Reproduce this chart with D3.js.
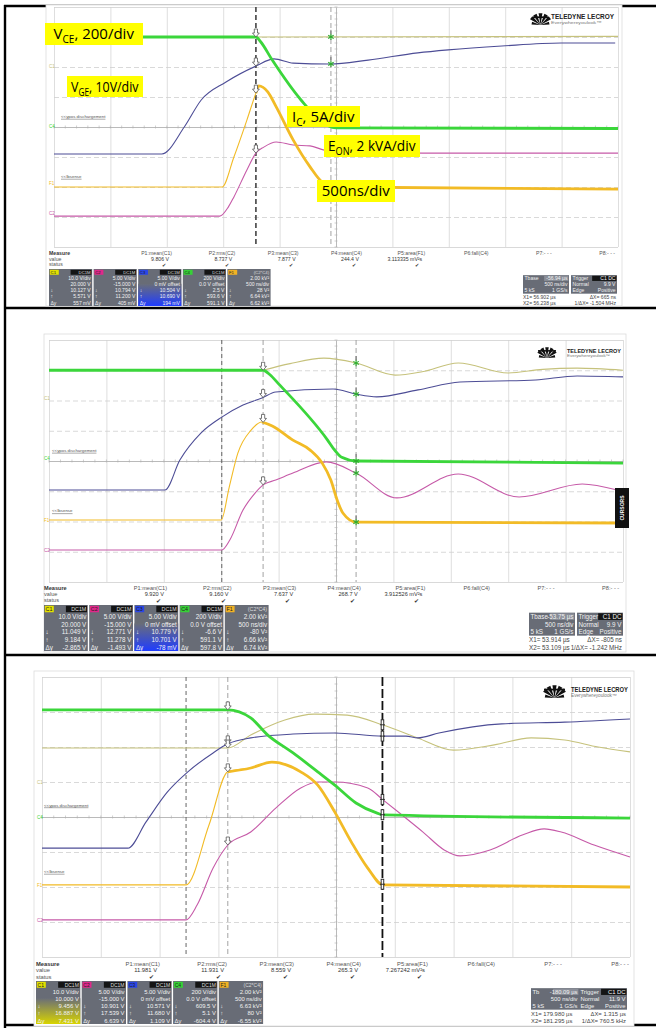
<!DOCTYPE html>
<html>
<head>
<meta charset="utf-8">
<title>IGBT turn-on waveforms</title>
<script src="https://cdn.jsdelivr.net/npm/d3@7/dist/d3.min.js"></script>
<style>
html,body{margin:0;padding:0;background:#fff;}
svg{display:block;}
</style>
</head>
<body>
<svg id="fig" width="656" height="1028"></svg>
<script>
// Each waveform is a list of [time in divisions (0..10), level in divisions (-4..4)].

// ---- capture 1 ----
const p1Olive = [[3.58,3.0],[10,3.02]];
const p1Green = [[0,3.0],[3.58,3.0],[3.66,2.85],[3.87,2.23],[4.38,0.9],[4.85,0.05],[5.0,-0.03],[10,-0.05]];
const p1Navy  = [[0,-0.9],[1.91,-0.9],[2.31,0.0],[2.61,0.9],[3.05,1.5],[3.58,2.03],[3.9,2.27],[4.24,2.13],[4.89,2.1],[5.57,2.23],[6.45,2.47],[6.99,2.57],[7.94,2.7],[8.99,2.8],[9.95,2.8]];
const p1Gold  = [[0,-2.0],[2.98,-2.0],[3.19,-1.0],[3.42,0.23],[3.58,1.13],[3.63,1.37],[3.79,1.17],[3.94,0.67],[4.24,-0.43],[4.54,-1.33],[4.75,-1.83],[4.98,-2.0],[10,-2.07]];
const p1Pink  = [[0,-2.97],[2.94,-2.97],[3.09,-2.67],[3.19,-2.33],[3.42,-1.43],[3.58,-0.87],[3.72,-0.67],[3.94,-0.5],[4.24,-0.6],[4.54,-0.63],[4.79,-0.77],[5.2,-0.85],[6.54,-0.87],[10,-0.87]];

// ---- capture 2 ----
const p2Olive = [[3.73,3.0],[4.2,3.22],[4.79,3.4],[5.35,3.24],[6.03,2.84],[6.5,2.95],[7.13,3.24],[8.0,2.91],[8.6,3.03],[9.2,3.07],[10,3.0]];
const p2Green = [[0,3.0],[3.73,3.0],[3.85,2.85],[4.0,2.55],[4.85,0.7],[4.98,0.35],[5.1,0.12],[5.35,0.0],[10,-0.07]];
const p2Navy  = [[0,-0.96],[2.02,-0.96],[2.28,0.03],[2.65,0.93],[3.01,1.45],[3.38,1.85],[3.71,2.08],[3.95,2.28],[4.95,2.38],[5.35,2.21],[5.71,2.12],[6.43,2.35],[7.16,2.61],[8.48,2.68],[9.2,2.81],[10,2.78]];
const p2Gold  = [[0,-1.95],[3.0,-1.95],[3.14,-0.86],[3.29,0.26],[3.52,1.02],[3.71,1.29],[3.89,1.16],[4.25,0.69],[4.55,0.36],[4.76,-0.07],[4.91,-0.63],[5.02,-1.29],[5.12,-1.72],[5.35,-2.02],[10,-2.05]];
const p2Pink  = [[0,-2.94],[3.01,-2.94],[3.15,-2.61],[3.38,-1.62],[3.59,-1.06],[3.73,-0.79],[3.95,-0.63],[4.25,-0.4],[4.83,-0.03],[5.35,-0.4],[6.06,-1.22],[7.13,-0.43],[8.19,-1.19],[9.29,-0.76],[9.9,-0.96]];

// ---- capture 3 ----
const p3Olive = [[0,1.97],[3.16,1.97],[3.55,2.34],[4.13,2.77],[4.63,2.94],[5.19,2.91],[5.8,2.63],[6.39,2.26],[7.0,1.91],[7.69,2.06],[8.32,2.26],[8.89,2.2],[9.46,2.0],[10,1.86]];
const p3Green = [[0,3.06],[3.16,3.06],[3.55,2.83],[3.84,2.34],[4.27,1.83],[4.69,1.29],[4.98,0.91],[5.34,0.4],[5.7,0.11],[5.8,0.06],[10,-0.03]];
const p3Navy  = [[0,-0.89],[1.46,-0.89],[1.77,-0.14],[2.13,0.71],[2.48,1.29],[2.91,1.83],[3.16,2.09],[3.55,2.26],[4.27,2.37],[4.98,2.4],[5.8,2.31],[6.19,2.31],[6.39,2.26],[6.75,2.4],[7.82,2.66],[8.89,2.71],[10,2.8]];
const p3Gold  = [[0,-1.94],[2.45,-1.94],[2.84,-0.23],[3.16,1.29],[3.55,1.4],[3.91,1.57],[4.4,1.29],[4.69,0.91],[4.98,0.14],[5.26,-0.71],[5.54,-1.46],[5.8,-1.94],[10,-2.0]];
const p3Pink  = [[0,-2.94],[2.45,-2.94],[2.64,-2.51],[2.91,-1.46],[3.16,-0.8],[3.55,-0.43],[3.98,0.26],[4.4,0.83],[4.69,1.0],[4.98,1.0],[5.54,0.83],[5.8,0.49],[6.12,0.06],[6.48,-0.43],[6.84,-0.94],[7.11,-1.11],[7.62,-0.94],[8.18,-0.51],[8.54,-0.34],[8.83,-0.43],[9.39,-0.8],[10,-1.14]];

// Cursor times (div)
const p1CursorTimes = [3.58, 4.91];
const p2CursorTimes = [3.73, 5.35];
const p3CursorTimes = [3.16, 5.79];
const p2TriggerMark = 3.01;
const p3TriggerMark = 2.45;

// Channel reference levels (div) shown at the left edge: C1, C4, F1, C2
const p1RefLevels = [2.03, 0.03, -1.87, -2.87];
const p2RefLevels = [2.08, 0.1, -1.95, -2.94];
const p3RefLevels = [1.0, 0.0, -1.94, -2.94];

// Measurement table
const paramNames = ["P1:mean(C1)","P2:rms(C2)","P3:mean(C3)","P4:mean(C4)","P5:area(F1)","P6:fall(C4)","P7:- - -","P8:- - -"];
const p1ParamValues = ["9.806 V","8.737 V","7.877 V","244.4 V","3.113335 mV\u00b2s"];
const p2ParamValues = ["9.920 V","9.160 V","7.637 V","268.7 V","3.912526 mV\u00b2s"];
const p3ParamValues = ["11.981 V","11.931 V","8.559 V","265.3 V","7.267242 mV\u00b2s"];

const channelTags  = ["C1","C2","C3","C4","F1"];
const channelHeads = ["DC1M","DC1M","DC1M","DC1M","(C2*C4)"];
const rowSymbols   = ["","","\u2193","\u2191","\u0394y"];
const p1ChannelRows = [
  ["10.0 V/div","20.000 V","10.127 V","5.571 V","557 mV"],
  ["5.00 V/div","-15.000 V","10.794 V","11.200 V","405 mV"],
  ["5.00 V/div","0 mV offset","10.504 V","10.690 V","194 mV"],
  ["200 V/div","0.0 V offset","2.5 V","593.6 V","591.1 V"],
  ["2.00 kV\u00b2","500 ns/div","28 V\u00b2","6.64 kV\u00b2","6.62 kV\u00b2"]
];
const p2ChannelRows = [
  ["10.0 V/div","20.000 V","11.049 V","9.184 V","-2.865 V"],
  ["5.00 V/div","-15.000 V","12.771 V","11.278 V","-1.493 V"],
  ["5.00 V/div","0 mV offset","10.779 V","10.701 V","-78 mV"],
  ["200 V/div","0.0 V offset","-6.6 V","591.1 V","597.8 V"],
  ["2.00 kV\u00b2","500 ns/div","-80 V\u00b2","6.66 kV\u00b2","6.74 kV\u00b2"]
];
const p3ChannelRows = [
  ["10.0 V/div","10.000 V","9.456 V","16.887 V","7.431 V"],
  ["5.00 V/div","-15.000 V","10.901 V","17.539 V","6.639 V"],
  ["5.00 V/div","0 mV offset","10.571 V","11.680 V","1.109 V"],
  ["200 V/div","0.0 V offset","609.5 V","5.1 V","-604.4 V"],
  ["2.00 kV\u00b2","500 ns/div","6.63 kV\u00b2","80 V\u00b2","-6.55 kV\u00b2"]
];
const p1Timebase = ["Tbase","-56.94 \u00b5s","500 ns/div","5 kS","1 GS/s"];
const p2Timebase = ["Tbase","-53.75 \u00b5s","500 ns/div","5 kS","1 GS/s"];
const p3Timebase = ["Tb","-180.09 \u00b5s","500 ns/div","5 kS","1 GS/s"];
const p1Trigger = ["C1 DC","9.9 V","Positive"];
const p2Trigger = ["C1 DC","9.9 V","Positive"];
const p3Trigger = ["C1 DC","11.9 V","Positive"];
const p1CursorReadout = ["X1= 56.902 \u00b5s","\u0394X= 665 ns","X2= 56.238 \u00b5s","1/\u0394X= -1.504 MHz"];
const p2CursorReadout = ["X1= 53.914 \u00b5s","\u0394X= -805 ns","X2= 53.109 \u00b5s","1/\u0394X= -1.242 MHz"];
const p3CursorReadout = ["X1= 179.980 \u00b5s","\u0394X= 1.315 \u00b5s","X2= 181.295 \u00b5s","1/\u0394X= 760.5 kHz"];

// Scale annotations on the first capture
const scaleLabelMain = ["V","V","I","E","500ns/div"];
const scaleLabelSub  = ["CE","GE","C","ON",""];
const scaleLabelRest = [", 200/div",", 10V/div",", 5A/div",", 2 kVA/div",""];

const COLORS = {olive:"#c6c27c", navy:"#4d4d96", pink:"#c65aa8", gold:"#f2bb26", green:"#3bd63b"};
const TAGCOL = ["#e3e000","#e0288a","#2a46e6","#36d236","#f2b224"];

const svg = d3.select("#fig");
svg.append("rect").attr("width",656).attr("height",1028).attr("fill","#fff");

// table rules around the three captures
const rules = svg.append("g").attr("stroke","#000").attr("stroke-width",2.4);
rules.append("line").attr("x1",5).attr("x2",5).attr("y1",5).attr("y2",1028);
rules.append("line").attr("x1",4).attr("x2",656).attr("y1",6).attr("y2",6);
rules.append("line").attr("x1",4).attr("x2",656).attr("y1",308).attr("y2",308);
rules.append("line").attr("x1",4).attr("x2",656).attr("y1",655).attr("y2",655);
rules.append("line").attr("x1",4).attr("x2",656).attr("y1",1025).attr("y2",1025);

const panels = [
  { frame:[46,5,576,301], grid:[54,7,618,247],
    traces:{olive:p1Olive, navy:p1Navy, pink:p1Pink, gold:p1Gold, green:p1Green},
    goldThickFrom:3.58, cursors:p1CursorTimes, cursorStyles:["dark","light"], trigMark:null,
    x1Marks:["green","navy","gold","pink"], x2Marks:["olive","navy"], x2Style:"star",
    refs:p1RefLevels, labelX:61, labelLevels:[0.3,-1.7],
    logo:[533,13,15,12,551,63],
    mX:49, mY:255, mGap:5.6, mFont:5.2, colR0:172, colStep:63.3,
    boxX0:49, boxW:44.6, boxY:269, boxH:37, hl:2, hlColor:"#1f3cff",
    tbX:523, trigX:571, tbW:47,
    values:p1ParamValues, rows:p1ChannelRows, tb:p1Timebase, trig:p1Trigger, cur:p1CursorReadout,
    labelBoxes:[[45,23,98,22],[67,76,76,21],[287,106,73,21],[324,135,96,22],[317,180,78,22]],
    cursorsTab:null },
  { frame:[44,334,582,318], grid:[49,340,623,582],
    traces:{olive:p2Olive, navy:p2Navy, pink:p2Pink, gold:p2Gold, green:p2Green},
    goldThickFrom:3.71, cursors:p2CursorTimes, cursorStyles:["light","light"], trigMark:p2TriggerMark,
    x1Marks:["green","navy","gold","pink"], x2Marks:["olive","navy","green","pink","gold"], x2Style:"star",
    refs:p2RefLevels, labelX:52, labelLevels:[0.3,-1.7],
    logo:[538,347,18,11,567,54],
    mX:44, mY:590, mGap:6, mFont:5.6, colR0:167, colStep:64.6,
    boxX0:44, boxW:45.2, boxY:605, boxH:46, hl:2, hlColor:"#1f3cff",
    tbX:529, trigX:577, tbW:47,
    values:p2ParamValues, rows:p2ChannelRows, tb:p2Timebase, trig:p2Trigger, cur:p2CursorReadout,
    labelBoxes:null,
    cursorsTab:[615,488,14,40] },
  { frame:[34,671,600,355], grid:[42,677,630,957],
    traces:{olive:p3Olive, navy:p3Navy, pink:p3Pink, gold:p3Gold, green:p3Green},
    goldThickFrom:3.16, cursors:p3CursorTimes, cursorStyles:["light","black"], trigMark:p3TriggerMark,
    x1Marks:["green","navy","olive","gold","pink"], x2Marks:["olive","navy","green","pink","gold"], x2Style:"bar",
    refs:p3RefLevels, labelX:44, labelLevels:[0.3,-1.6],
    logo:[544,685,21,13,571,57],
    mX:36, mY:966, mGap:6.3, mFont:5.8, colR0:160, colStep:67,
    boxX0:36, boxW:45.7, boxY:981, boxH:43, hl:0, hlColor:"#d8d400",
    tbX:531, trigX:579, tbW:49,
    values:p3ParamValues, rows:p3ChannelRows, tb:p3Timebase, trig:p3Trigger, cur:p3CursorReadout,
    labelBoxes:null,
    cursorsTab:null }
];

const defs = svg.append("defs");
panels.forEach((p,i)=>{
  const gr = defs.append("linearGradient").attr("id","hl"+i).attr("x1",0).attr("x2",0).attr("y1",0).attr("y2",1);
  gr.append("stop").attr("offset","0%").attr("stop-color","#6a6e78");
  gr.append("stop").attr("offset","100%").attr("stop-color",p.hlColor);
});

function valueAt(data, t){
  if (t <= data[0][0]) return data[0][1];
  for (let k=1;k<data.length;k++){
    if (t <= data[k][0]){
      const a=data[k-1], b=data[k];
      return a[1] + (b[1]-a[1])*(t-a[0])/(b[0]-a[0]);
    }
  }
  return data[data.length-1][1];
}

function drawLogo(g, L){
  const [fx,fy,fw,fh,tx,tw] = L;
  const cx = fx+fw/2, by = fy+fh;
  const lg = g.append("g").attr("fill","#111");
  // fan of rays converging at the bottom centre
  const angles = [-78,-52,-28,0,28,52,78];
  angles.forEach(a=>{
    const r = a*Math.PI/180, len = fh*(Math.abs(a)>60?0.75:1.0);
    const w = 0.16;
    const p1x = cx + Math.sin(r-w)*len, p1y = by - Math.cos(r-w)*len;
    const p2x = cx + Math.sin(r+w)*len, p2y = by - Math.cos(r+w)*len;
    lg.append("path").attr("d",`M${cx},${by} L${p1x},${p1y} L${p2x},${p2y} Z`);
  });
  lg.append("rect").attr("x",fx).attr("y",fy+fh*0.28).attr("width",fw).attr("height",fh*0.14);
  g.append("text").attr("x",tx).attr("y",fy+fh*0.5).attr("font-family","Liberation Sans, Arial")
    .attr("font-weight","bold").attr("font-size",fh*0.55).attr("fill","#222")
    .attr("textLength",tw).attr("lengthAdjust","spacingAndGlyphs").text("TELEDYNE LECROY");
  g.append("text").attr("x",tx).attr("y",fy+fh*0.95).attr("font-family","Liberation Sans, Arial")
    .attr("font-size",fh*0.36).attr("fill","#777")
    .attr("textLength",tw*0.8).attr("lengthAdjust","spacingAndGlyphs").text("Everywhereyoulook\u2122");
}

function arrowMark(g, x, y){
  g.append("path").attr("d",`M${x-1.6},${y-8} h3.2 v4 h1.8 l-3.4,4 l-3.4,-4 h1.8 z`)
    .attr("fill","#fff").attr("stroke","#555").attr("stroke-width",0.8);
}
function starMark(g, x, y, col){
  const s = 3.2;
  const m = g.append("g").attr("stroke",col).attr("stroke-width",1.1);
  [0,60,120].forEach(a=>{
    const r=a*Math.PI/180;
    m.append("line").attr("x1",x-Math.sin(r)*s).attr("y1",y-Math.cos(r)*s).attr("x2",x+Math.sin(r)*s).attr("y2",y+Math.cos(r)*s);
  });
  g.append("line").attr("x1",x).attr("x2",x).attr("y1",y-7).attr("y2",y-3).attr("stroke","#555").attr("stroke-width",0.8);
}
function barMark(g, x, y){
  g.append("rect").attr("x",x-1.3).attr("y",y-5).attr("width",2.6).attr("height",10).attr("fill","#fff").attr("stroke","#222").attr("stroke-width",0.9);
  g.append("line").attr("x1",x-2.5).attr("x2",x+2.5).attr("y1",y).attr("y2",y).attr("stroke","#222").attr("stroke-width",0.9);
}

function drawPanel(p, idx){
  const g = svg.append("g");
  g.append("rect").attr("x",p.frame[0]).attr("y",p.frame[1]).attr("width",p.frame[2]).attr("height",p.frame[3])
    .attr("fill","#fff").attr("stroke","#dcdcdc").attr("stroke-width",0.8);

  const [gx0,gy0,gx1,gy1] = p.grid;
  const xs = d3.scaleLinear().domain([0,10]).range([gx0,gx1]);
  const ys = d3.scaleLinear().domain([-4,4]).range([gy1,gy0]);

  // graticule: vertical division lines
  const vAxis = d3.axisBottom(xs).tickValues(d3.range(0,11)).tickSize(-(gy1-gy0)).tickFormat("");
  const vg = g.append("g").attr("transform",`translate(0,${gy1})`).call(vAxis);
  vg.select(".domain").remove();
  vg.selectAll(".tick line").attr("stroke",d=>d===5?"#a8a8a8":"#d6d6d6").attr("stroke-width",0.8);
  // horizontal division lines
  const hAxis = d3.axisLeft(ys).tickValues(d3.range(-4,5)).tickSize(-(gx1-gx0)).tickFormat("");
  const hg = g.append("g").attr("transform",`translate(${gx0},0)`).call(hAxis);
  hg.select(".domain").remove();
  hg.selectAll(".tick line").attr("stroke",d=>d===0?"#a8a8a8":"#cfcfcf").attr("stroke-width",0.8)
    .attr("stroke-dasharray",d=>(d===0||Math.abs(d)===4)?null:"5,3");
  // minor ticks on the centre lines
  g.append("g").selectAll("line").data(d3.range(0,10.01,0.2)).join("line")
    .attr("x1",d=>xs(d)).attr("x2",d=>xs(d)).attr("y1",ys(0)-1.5).attr("y2",ys(0)+1.5)
    .attr("stroke","#b0b0b0").attr("stroke-width",0.6);
  g.append("g").selectAll("line").data(d3.range(-4,4.01,0.2)).join("line")
    .attr("y1",d=>ys(d)).attr("y2",d=>ys(d)).attr("x1",xs(5)-1.5).attr("x2",xs(5)+1.5)
    .attr("stroke","#b0b0b0").attr("stroke-width",0.6);

  drawLogo(g, p.logo);

  // trigger mark and cursors
  if (p.trigMark !== null){
    g.append("line").attr("x1",xs(p.trigMark)).attr("x2",xs(p.trigMark)).attr("y1",gy0).attr("y2",gy1)
      .attr("stroke","#555").attr("stroke-width",0.9).attr("stroke-dasharray","4,3");
  }
  p.cursors.forEach((t,k)=>{
    const st = p.cursorStyles[k];
    g.append("line").attr("x1",xs(t)).attr("x2",xs(t)).attr("y1",gy0).attr("y2",gy1)
      .attr("stroke", st==="dark"?"#444":st==="black"?"#111":"#999")
      .attr("stroke-width", st==="dark"?1.6:st==="black"?1.8:0.9)
      .attr("stroke-dasharray", st==="black"?"9,3":"5,3");
  });

  // channel reference tags and trace labels on the left
  const refCols = [COLORS.olive, COLORS.green, COLORS.gold, COLORS.pink];
  const refTxt = ["C1","C4","F1","C2"];
  p.refs.forEach((v,k)=>{
    g.append("text").attr("x",gx0-5).attr("y",ys(v)+2).attr("font-family","Liberation Sans, Arial")
      .attr("font-size",4.6).attr("fill",refCols[k]).text(refTxt[k]);
  });
  const lblTxt = ["<<ypos dischargement","<<Ibsense"];
  p.labelLevels.forEach((v,k)=>{
    const t = g.append("text").attr("x",p.labelX).attr("y",ys(v)).attr("font-family","Liberation Sans, Arial")
      .attr("font-size",4.4).attr("fill","#555").text(lblTxt[k]);
    const w = t.node().getComputedTextLength();
    g.append("line").attr("x1",p.labelX).attr("x2",p.labelX+w).attr("y1",ys(v)+1.2).attr("y2",ys(v)+1.2)
      .attr("stroke","#555").attr("stroke-width",0.5);
  });

  // traces
  const line = d3.line().x(d=>xs(d[0])).y(d=>ys(d[1])).curve(d3.curveMonotoneX);
  const tg = g.append("g").attr("fill","none").attr("stroke-linejoin","round");
  tg.append("path").attr("d",line(p.traces.olive)).attr("stroke",COLORS.olive).attr("stroke-width",1.1);
  tg.append("path").attr("d",line(p.traces.navy)).attr("stroke",COLORS.navy).attr("stroke-width",1.1);
  tg.append("path").attr("d",line(p.traces.pink)).attr("stroke",COLORS.pink).attr("stroke-width",1.1);
  tg.append("path").attr("d",line(p.traces.gold)).attr("stroke",COLORS.gold).attr("stroke-width",1.1);
  const thickGold = [[p.goldThickFrom, valueAt(p.traces.gold,p.goldThickFrom)]]
    .concat(p.traces.gold.filter(d=>d[0]>p.goldThickFrom));
  tg.append("path").attr("d",line(thickGold)).attr("stroke",COLORS.gold).attr("stroke-width",2.8);
  tg.append("path").attr("d",line(p.traces.green)).attr("stroke",COLORS.green).attr("stroke-width",2.8);

  // cursor markers
  const mg = g.append("g");
  p.x1Marks.forEach(k=>{
    const t = p.cursors[0];
    arrowMark(mg, xs(t), ys(valueAt(p.traces[k],t)));
  });
  p.x2Marks.forEach(k=>{
    const t = p.cursors[1];
    const y = ys(valueAt(p.traces[k],t));
    if (p.x2Style==="star") starMark(mg, xs(t), y, "#2fae2f");
    else barMark(mg, xs(t), y);
  });

  if (p.cursorsTab){
    const [cx,cy,cw,ch] = p.cursorsTab;
    g.append("rect").attr("x",cx).attr("y",cy).attr("width",cw).attr("height",ch).attr("fill","#111");
    g.append("text").attr("transform",`translate(${cx+cw/2+2},${cy+ch/2}) rotate(-90)`).attr("text-anchor","middle")
      .attr("font-family","Liberation Sans, Arial").attr("font-weight","bold").attr("font-size",5)
      .attr("fill","#fff").text("CURSORS");
  }

  // scale annotation labels
  if (p.labelBoxes){
    p.labelBoxes.forEach((B,k)=>{
      const [bx,by,bw,bh] = B;
      const lg = g.append("g");
      lg.append("rect").attr("x",bx).attr("y",by).attr("width",bw).attr("height",bh).attr("fill","#ffff00");
      const t = lg.append("text").attr("x",0).attr("y",0).attr("font-family","Open Sans, Noto Sans, sans-serif")
        .attr("font-size",15).attr("fill","#000");
      t.append("tspan").text(scaleLabelMain[k]);
      if (scaleLabelSub[k]) t.append("tspan").attr("font-size",10).attr("dy",4).text(scaleLabelSub[k]);
      if (scaleLabelRest[k]) t.append("tspan").attr("dy",scaleLabelSub[k]?-4:0).text(scaleLabelRest[k]);
      const w = t.node().getBBox().width;
      const avail = bw - 8;
      const s = Math.min(1, avail / w);
      const tx = bx + (bw - w*s)/2;
      t.attr("transform",`translate(${tx},${by+bh/2+5}) scale(${s},1)`);
    });
  }

  // measurement strip
  const ms = g.append("g").attr("font-family","Liberation Sans, Arial").attr("font-size",p.mFont).attr("fill","#555");
  ms.append("text").attr("x",p.mX).attr("y",p.mY).attr("font-weight","bold").attr("fill","#333").text("Measure");
  ms.append("text").attr("x",p.mX).attr("y",p.mY+p.mGap).text("value");
  ms.append("text").attr("x",p.mX).attr("y",p.mY+2*p.mGap).text("status");
  paramNames.forEach((n,k)=>{
    const R = p.colR0 + k*p.colStep;
    ms.append("text").attr("x",R).attr("y",p.mY).attr("text-anchor","end").text(n);
    if (p.values[k]) {
      ms.append("text").attr("x",R-3).attr("y",p.mY+p.mGap).attr("text-anchor","end").attr("fill","#333").text(p.values[k]);
      ms.append("text").attr("x",R-6).attr("y",p.mY+2*p.mGap+0.5).attr("text-anchor","end").attr("fill","#333").text("\u2714");
    }
  });

  // channel descriptor boxes
  const rowH = p.boxH/6, fs = rowH*0.82;
  channelTags.forEach((tag,k)=>{
    const bx = p.boxX0 + k*p.boxW, bw = p.boxW-1.4;
    const bg = g.append("g").attr("font-family","Liberation Sans, Arial").attr("font-size",fs);
    bg.append("rect").attr("x",bx).attr("y",p.boxY).attr("width",bw).attr("height",p.boxH).attr("fill","#686c76");
    if (k===p.hl){
      bg.append("rect").attr("x",bx).attr("y",p.boxY+rowH*2.4).attr("width",bw).attr("height",p.boxH-rowH*2.4)
        .attr("fill",`url(#hl${idx})`);
    }
    bg.append("rect").attr("x",bx+0.8).attr("y",p.boxY+0.8).attr("width",9).attr("height",rowH-1.2).attr("fill",TAGCOL[k]);
    bg.append("text").attr("x",bx+1.6).attr("y",p.boxY+rowH-1.6).attr("font-size",fs*0.85).attr("fill","#222").text(tag);
    if (k<4){
      bg.append("rect").attr("x",bx+bw*0.5).attr("y",p.boxY+0.8).attr("width",bw*0.5-0.8).attr("height",rowH-1.2).attr("fill","#141414");
    }
    bg.append("text").attr("x",bx+bw-1.5).attr("y",p.boxY+rowH-1.6).attr("text-anchor","end")
      .attr("font-size",fs*0.85).attr("fill","#ddd").text(channelHeads[k]);
    p.rows[k].forEach((s,r)=>{
      const y = p.boxY + rowH*(r+2) - 1.4;
      bg.append("text").attr("x",bx+bw-1.5).attr("y",y).attr("text-anchor","end").attr("fill","#f2f2f2").text(s);
      if (rowSymbols[r]) bg.append("text").attr("x",bx+1.5).attr("y",y).attr("fill","#f2f2f2").text(rowSymbols[r]);
    });
  });

  // timebase, trigger and cursor readouts
  const tbY = p.boxY + p.boxH - rowH*5;
  const tgp = g.append("g").attr("font-family","Liberation Sans, Arial").attr("font-size",fs);
  const boxes = [
    {x:p.tbX, head:p.tb[0], r:[[null,p.tb[1]],[null,p.tb[2]],[p.tb[3],p.tb[4]]], dark:false},
    {x:p.trigX, head:"Trigger", r:[[null,p.trig[0]],["Normal",p.trig[1]],["Edge",p.trig[2]]], dark:true}
  ];
  boxes.forEach(B=>{
    tgp.append("rect").attr("x",B.x).attr("y",tbY).attr("width",p.tbW-1).attr("height",rowH*3).attr("fill","#686c76");
    tgp.append("rect").attr("x",B.x+p.tbW*0.45).attr("y",tbY+0.6).attr("width",p.tbW*0.55-1.6).attr("height",rowH-1)
      .attr("fill",B.dark?"#141414":"#8a8e98");
    tgp.append("text").attr("x",B.x+1.5).attr("y",tbY+rowH-1.4).attr("fill","#f2f2f2").text(B.head);
    B.r.forEach((rr,j)=>{
      const y = tbY+(j+1)*rowH-1.4;
      if (rr[0]) tgp.append("text").attr("x",B.x+1.5).attr("y",y).attr("fill","#f2f2f2").text(rr[0]);
      tgp.append("text").attr("x",B.x+p.tbW-2.5).attr("y",y).attr("text-anchor","end").attr("fill","#f2f2f2").text(rr[1]);
    });
  });
  tgp.append("text").attr("x",p.tbX).attr("y",tbY+4*rowH-1.2).attr("fill","#444").text(p.cur[0]);
  tgp.append("text").attr("x",p.trigX+p.tbW-2).attr("y",tbY+4*rowH-1.2).attr("text-anchor","end").attr("fill","#444").text(p.cur[1]);
  tgp.append("text").attr("x",p.tbX).attr("y",tbY+5*rowH-1.2).attr("fill","#444").text(p.cur[2]);
  tgp.append("text").attr("x",p.trigX+p.tbW-2).attr("y",tbY+5*rowH-1.2).attr("text-anchor","end").attr("fill","#444").text(p.cur[3]);
}

panels.forEach((p,i)=>drawPanel(p,i));
</script>
</body>
</html>
